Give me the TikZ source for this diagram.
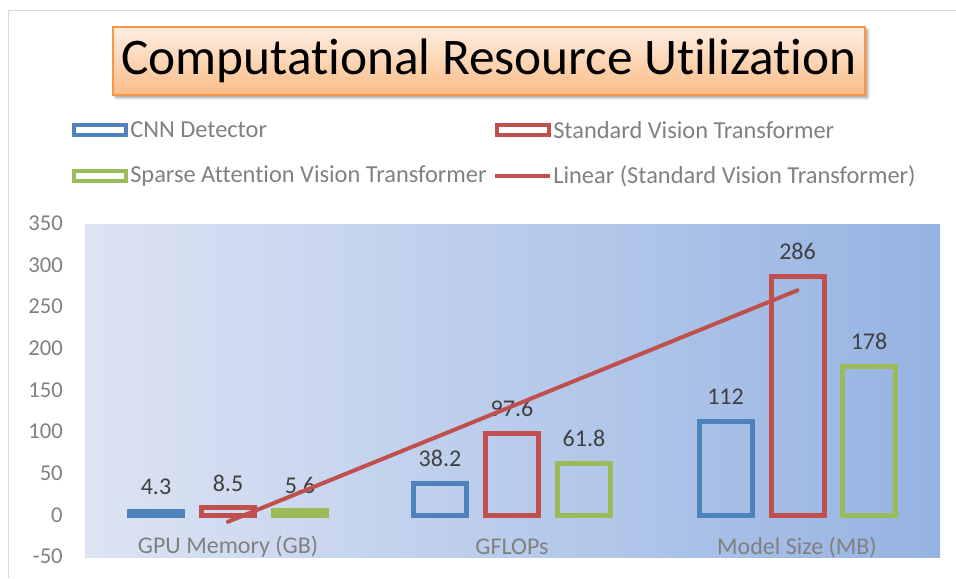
\documentclass[tikz,border=0pt]{standalone}
\usepackage{fontspec}
\setmainfont{Carlito}[Ligatures=NoCommon]
\usepackage{xcolor}
\usepackage{tikz}
\usetikzlibrary{
    positioning,
    shadows,
    shadows.blur
}
\definecolor{barBlue}{RGB}{79, 129, 189}
\definecolor{barRed}{RGB}{192, 80, 77}
\definecolor{barGreen}{RGB}{155, 187, 89}
\definecolor{axisGray}{RGB}{128, 128, 128}
\definecolor{labelGray}{RGB}{64, 64, 64}
\definecolor{plotLeft}{RGB}{221, 228, 243}
\definecolor{plotRight}{RGB}{149, 179, 226}
\definecolor{titleTop}{RGB}{254, 238, 225}
\definecolor{titleBottom}{RGB}{250, 188, 135}
\definecolor{titleEdge}{RGB}{247, 150, 70}

\begin{document}
\begin{tikzpicture}[x=0.75pt, y=-0.75pt,
    bar/.style={line width=3.75pt},
    axislabel/.style={text=axisGray, font=\fontsize{17}{20}\selectfont, inner sep=0pt},
    catlabel/.style={text=axisGray, font=\fontsize{18}{20}\selectfont, inner sep=0pt},
    datalabel/.style={text=labelGray, font=\fontsize{18}{20}\selectfont, inner sep=0pt},
    legendtext/.style={text=axisGray, font=\fontsize{18.3}{20}\selectfont, anchor=west, inner sep=0pt}
]
    \useasboundingbox (0,0) rectangle (956,578);

    % 外枠
    \draw[black!15, line width=1.2pt] (8.5,578) -- (8.5,10.5) -- (956,10.5);

    % プロット領域
    \shade[left color=plotLeft, right color=plotRight] (85,224) rectangle (940,557);

    % タイトル
    \node[draw=titleEdge, line width=1.2pt, top color=titleTop, bottom color=titleBottom,
          minimum width=564pt, minimum height=51pt, inner sep=0pt,
          blur shadow={shadow xshift=2pt, shadow yshift=-2pt, shadow blur steps=6},
          font=\fontsize{38.5}{42}\selectfont] (title) at (489,61) {Computational Resource Utilization};

    % 凡例
    \draw[barBlue, line width=3pt, fill=white] (74,125) rectangle (126,135);
    \node[legendtext] (legA) at (130,130) {CNN Detector};
    \draw[barRed, line width=3pt, fill=white] (497,125) rectangle (549,135);
    \node[legendtext] (legB) at (553,130) {Standard Vision Transformer};
    \draw[barGreen, line width=3pt, fill=white] (74,171) rectangle (126,181);
    \node[legendtext] (legC) at (130,176) {Sparse Attention Vision Transformer};
    \coordinate (legLineA) at (495,176);
    \coordinate (legLineB) at (550,176);
    \draw[barRed, line width=3pt] (legLineA) -- (legLineB);
    \node[legendtext] (legD) at (553,176) {Linear (Standard Vision Transformer)};

    % 縦軸ラベル
    \foreach \v in {-50, 0, ..., 350} {
        \node[axislabel, anchor=east] (tick\v) at (63, 515-\v*0.834) {\v};
    }

    % 棒
    \foreach \cx/\v/\col/\nm in {156/4.3/barBlue/gA, 228/8.5/barRed/gB, 300/5.6/barGreen/gC,
                                 440/38.2/barBlue/fA, 512/97.6/barRed/fB, 584/61.8/barGreen/fC,
                                 725.5/112/barBlue/mA, 797.5/286/barRed/mB, 869/178/barGreen/mC} {
        \pgfmathsetmacro{\ytop}{515-\v*0.834}
        \draw[bar, \col] (\cx-26.5,515) rectangle (\cx+26.5,\ytop);
        \node[datalabel] (val\nm) at (\cx,\ytop-25) {\v};
    }

    % 項目ラベル
    \node[catlabel] (catA) at (228,547) {GPU Memory (GB)};
    \node[catlabel] (catB) at (512,547) {GFLOPs};
    \node[catlabel] (catC) at (797,547) {Model Size (MB)};

    % 近似直線
    \coordinate (fitA) at (228,521.7);
    \coordinate (fitB) at (797.5,290.3);
    \draw[barRed, line width=3pt, line cap=round] (fitA) -- (fitB);
\end{tikzpicture}
\end{document}
